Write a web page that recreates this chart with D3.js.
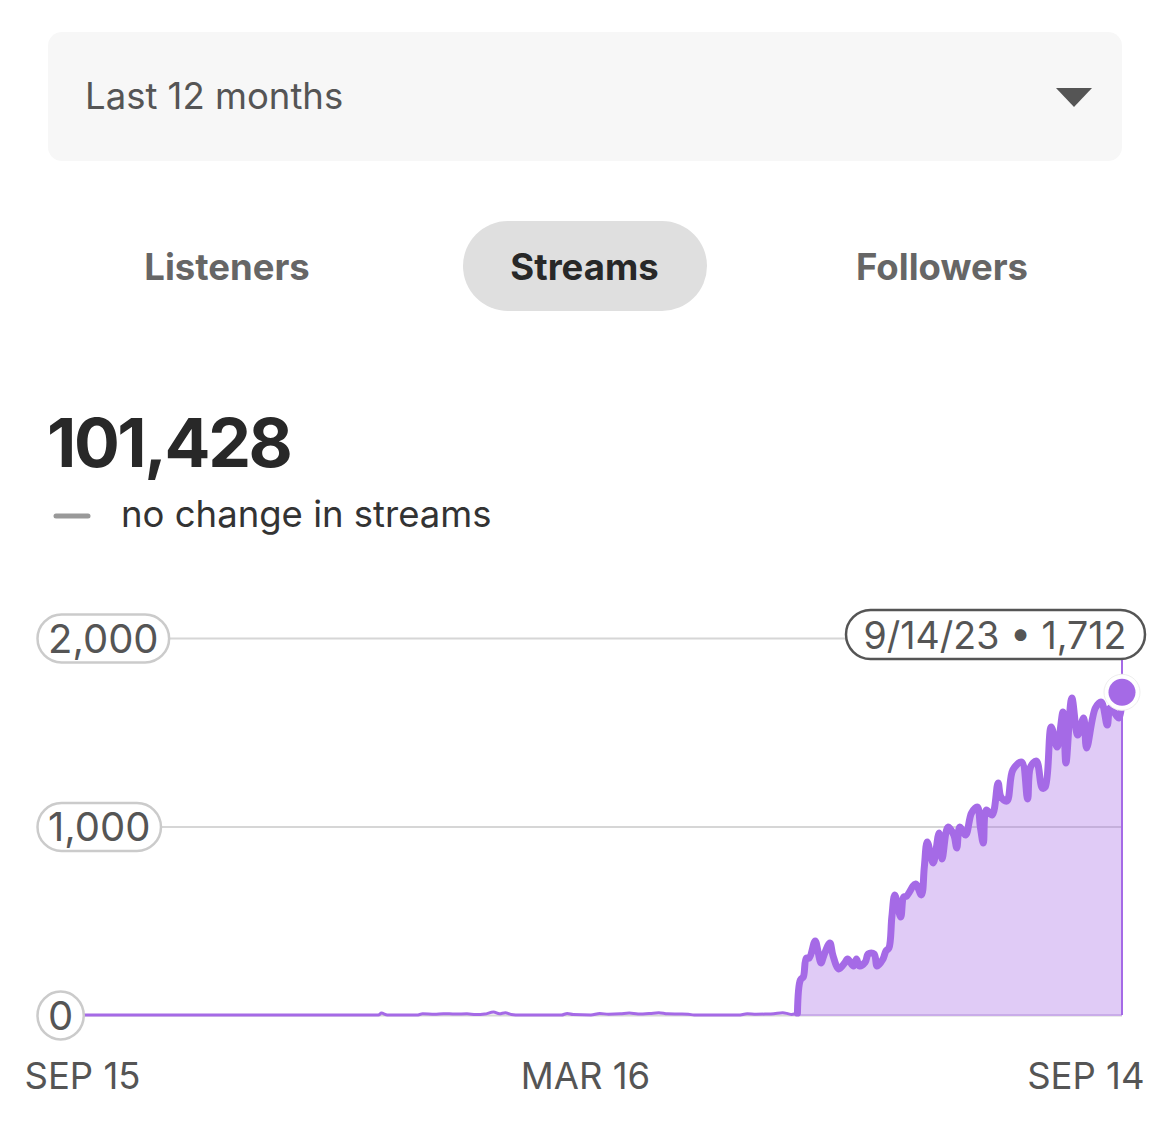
<!DOCTYPE html>
<html>
<head>
<meta charset="utf-8">
<script src="https://cdn.jsdelivr.net/npm/d3@7"></script>
<style>
  body { margin: 0; background: #fff; }
  text { font-family: "Inter", "Noto Sans", sans-serif; }
</style>
</head>
<body>
<div id="chart"></div>
<script>
// days since the first day of the range, and streams
var dayOffsets = [0, 112, 113, 115, 125, 127, 131, 134, 138, 142, 145, 148, 151, 153, 155, 157, 160, 174, 176, 178, 184, 187, 190, 194, 197, 200, 204, 207, 210, 214, 217, 219, 234, 237, 240, 243, 246, 249, 251, 252, 253,
    254, 255, 256, 257, 258, 260, 261, 262, 263, 265, 266, 268, 270, 271, 273, 274, 275, 277, 278, 280, 281, 283, 284, 285, 286, 287, 289, 290, 291, 294, 296, 297, 298, 300, 302, 303, 305, 307, 308, 309, 311, 313, 315, 316, 317, 318, 320, 322, 323, 325, 327, 330, 332, 333, 335, 337, 338, 340, 342, 344, 345, 347, 349, 351, 352, 355, 357, 359, 360, 363, 364];
var streams = [0, 0, 10, 0, 0, 6, 4, 7, 5, 6, 2, 5, 16, 6, 12, 3, 0, 0, 8, 2, 0, 8, 4, 6, 10, 5, 8, 12, 6, 5, 4, 0, 0, 6, 4, 5, 7, 12, 6, 3, 5,
    10, 186, 202, 302, 302, 393, 334, 276, 318, 382, 318, 244, 276, 297, 260, 297, 260, 281, 324, 324, 260, 297, 340, 355, 520, 637, 520, 626, 631, 695, 637, 785, 918, 806, 966, 828, 997, 955, 886, 997, 955, 1072, 1103, 997, 912, 1088, 1061, 1231, 1156, 1135, 1300, 1342, 1146, 1316, 1347, 1204, 1210, 1528, 1422, 1607, 1337, 1682, 1485, 1576, 1416, 1629, 1660, 1538, 1629, 1576, 1712];

var yTicks = [0, 1000, 2000];
var xTickDates = ["2022-09-15", "2023-03-16", "2023-09-14"];
var xTickLabels = ["SEP 15", "MAR 16", "SEP 14"];
var tabLabels = ["Listeners", "Streams", "Followers"];

var svgWidth = 1169;
var svgHeight = 1139;
var purple = "#a56ae6";

var parseDate = d3.utcParse("%Y-%m-%d");
var startDate = parseDate(xTickDates[0]);

var dataset = dayOffsets.map(function(d, i) {
    return { date: d3.utcDay.offset(startDate, d), value: streams[i] };
});
var lastPoint = dataset[dataset.length - 1];

var svg = d3.select("#chart")
    .append("svg")
    .attr("width", svgWidth)
    .attr("height", svgHeight)
    .style("display", "block");

// dropdown
svg.append("rect")
    .attr("x", 48).attr("y", 32)
    .attr("width", 1074).attr("height", 129)
    .attr("rx", 14)
    .attr("fill", "#f7f7f7");
svg.append("text")
    .attr("x", 85).attr("y", 109)
    .attr("font-size", 36.5)
    .attr("fill", "#555")
    .text("Last 12 months");
svg.append("path")
    .attr("d", "M1056,88L1092,88L1074,107Z")
    .attr("fill", "#555");

// tabs
svg.append("rect")
    .attr("x", 463).attr("y", 221)
    .attr("width", 244).attr("height", 90)
    .attr("rx", 45)
    .attr("fill", "#dfdfdf");
var tabCenters = d3.scalePoint().domain(tabLabels).range([227, 942]);
svg.selectAll(".tab")
    .data(tabLabels)
    .enter()
    .append("text")
    .attr("class", "tab")
    .attr("x", d => tabCenters(d))
    .attr("y", 280)
    .attr("text-anchor", "middle")
    .attr("font-size", 36.5)
    .attr("font-weight", 700)
    .attr("fill", d => d === "Streams" ? "#282828" : "#666")
    .text(d => d);

// headline number
svg.append("text")
    .attr("x", 47).attr("y", 467)
    .attr("font-size", 68)
    .attr("font-weight", 700)
    .attr("letter-spacing", -2.4)
    .attr("fill", "#282828")
    .text("101,428");
svg.append("line")
    .attr("x1", 56).attr("x2", 88)
    .attr("y1", 516).attr("y2", 516)
    .attr("stroke", "#999")
    .attr("stroke-width", 5)
    .attr("stroke-linecap", "round");
svg.append("text")
    .attr("x", 121).attr("y", 527)
    .attr("font-size", 36.5)
    .attr("fill", "#333")
    .text("no change in streams");

// scales
var xScale = d3.scaleUtc()
    .domain([startDate, parseDate(xTickDates[2])])
    .range([48, 1122]);
var yScale = d3.scaleLinear()
    .domain([0, 2000])
    .range([1015, 638]);

// grid lines, only the tick lines of an axis
var grid = svg.append("g")
    .attr("transform", "translate(48, 0)")
    .call(d3.axisLeft(yScale)
        .tickValues(yTicks)
        .tickSize(-1074)
        .tickFormat(""));
grid.select(".domain").remove();
grid.selectAll("line").attr("stroke", "#d6d6d6").attr("stroke-width", 2);

// area and line
var area = d3.area()
    .x(d => xScale(d.date))
    .y0(yScale(0))
    .y1(d => yScale(d.value))
    .curve(d3.curveCatmullRom);
var line = d3.line()
    .x(d => xScale(d.date))
    .y(d => yScale(d.value))
    .curve(d3.curveCatmullRom);
// monotone here, catmull dips below zero on the long flat stretches
var flatLine = d3.line()
    .x(d => xScale(d.date))
    .y(d => yScale(d.value))
    .curve(d3.curveMonotoneX);

var flatEnd = dayOffsets.indexOf(254);

svg.append("path")
    .datum(dataset.slice(flatEnd))
    .attr("d", area)
    .attr("fill", purple)
    .attr("fill-opacity", 0.35);
svg.append("line")
    .attr("x1", xScale(dataset[flatEnd].date)).attr("x2", 1122)
    .attr("y1", yScale(0)).attr("y2", yScale(0))
    .attr("stroke", "#c9ace9")
    .attr("stroke-width", 2);
// before the take off the line is thinner
svg.append("path")
    .datum(dataset.slice(0, flatEnd + 1))
    .attr("d", flatLine)
    .attr("fill", "none")
    .attr("stroke", purple)
    .attr("stroke-width", 3);
svg.append("path")
    .datum(dataset.slice(flatEnd))
    .attr("d", line)
    .attr("fill", "none")
    .attr("stroke", purple)
    .attr("stroke-width", 7)
    .attr("stroke-linejoin", "round")
    .attr("stroke-linecap", "round");

// marker line on the last day
svg.append("line")
    .attr("x1", xScale(lastPoint.date)).attr("x2", xScale(lastPoint.date))
    .attr("y1", 640).attr("y2", yScale(0))
    .attr("stroke", purple)
    .attr("stroke-width", 2);
svg.append("circle")
    .attr("cx", xScale(lastPoint.date))
    .attr("cy", yScale(lastPoint.value))
    .attr("r", 18)
    .attr("fill", "#fff")
    .attr("stroke", "#eee")
    .attr("stroke-width", 1);
svg.append("circle")
    .attr("cx", xScale(lastPoint.date))
    .attr("cy", yScale(lastPoint.value))
    .attr("r", 13.5)
    .attr("fill", purple);

// y labels in pills, on top of the marks
var yAxis = svg.append("g")
    .attr("transform", "translate(48, 0)")
    .call(d3.axisLeft(yScale)
        .tickValues(yTicks)
        .tickSize(0)
        .tickFormat(d3.format(",")));
yAxis.select(".domain").remove();
yAxis.selectAll("text")
    .attr("x", 0)
    .attr("dy", "0.36em")
    .attr("text-anchor", "start")
    .attr("font-size", 40)
    .attr("fill", "#555");
yAxis.selectAll(".tick").each(function() {
    var tick = d3.select(this);
    var box = tick.select("text").node().getBBox();
    tick.insert("rect", "text")
        .attr("x", -10.5)
        .attr("y", -24)
        .attr("width", box.width + 21)
        .attr("height", 48)
        .attr("rx", 24)
        .attr("fill", "#fff")
        .attr("stroke", "#cbcbcb")
        .attr("stroke-width", 2.5);
});

// tooltip pill
var tip = svg.append("g");
tip.append("rect")
    .attr("x", 846).attr("y", 610)
    .attr("width", 299).attr("height", 49)
    .attr("rx", 24.5)
    .attr("fill", "#fff")
    .attr("stroke", "#555")
    .attr("stroke-width", 2.5);
tip.append("text")
    .attr("x", 995).attr("y", 649)
    .attr("text-anchor", "middle")
    .attr("font-size", 37.5)
    .attr("fill", "#555")
    .text(d3.utcFormat("%-m/%-d/%y")(lastPoint.date) + " \u2022 " + d3.format(",")(lastPoint.value));

// x axis
var xAxis = svg.append("g")
    .attr("transform", "translate(0, 1015)")
    .call(d3.axisBottom(xScale)
        .tickValues(xTickDates.map(parseDate))
        .tickSize(0)
        .tickFormat((d, i) => xTickLabels[i]));
xAxis.select(".domain").remove();
xAxis.selectAll("text")
    .attr("y", 48)
    .attr("dy", "0.72em")
    .attr("font-size", 36.5)
    .attr("fill", "#555")
    .attr("text-anchor", (d, i) => i === 0 ? "start" : (i === 2 ? "end" : "middle"))
    .attr("x", (d, i) => i === 0 ? -24 : (i === 2 ? 22 : 0));
</script>
</body>
</html>
